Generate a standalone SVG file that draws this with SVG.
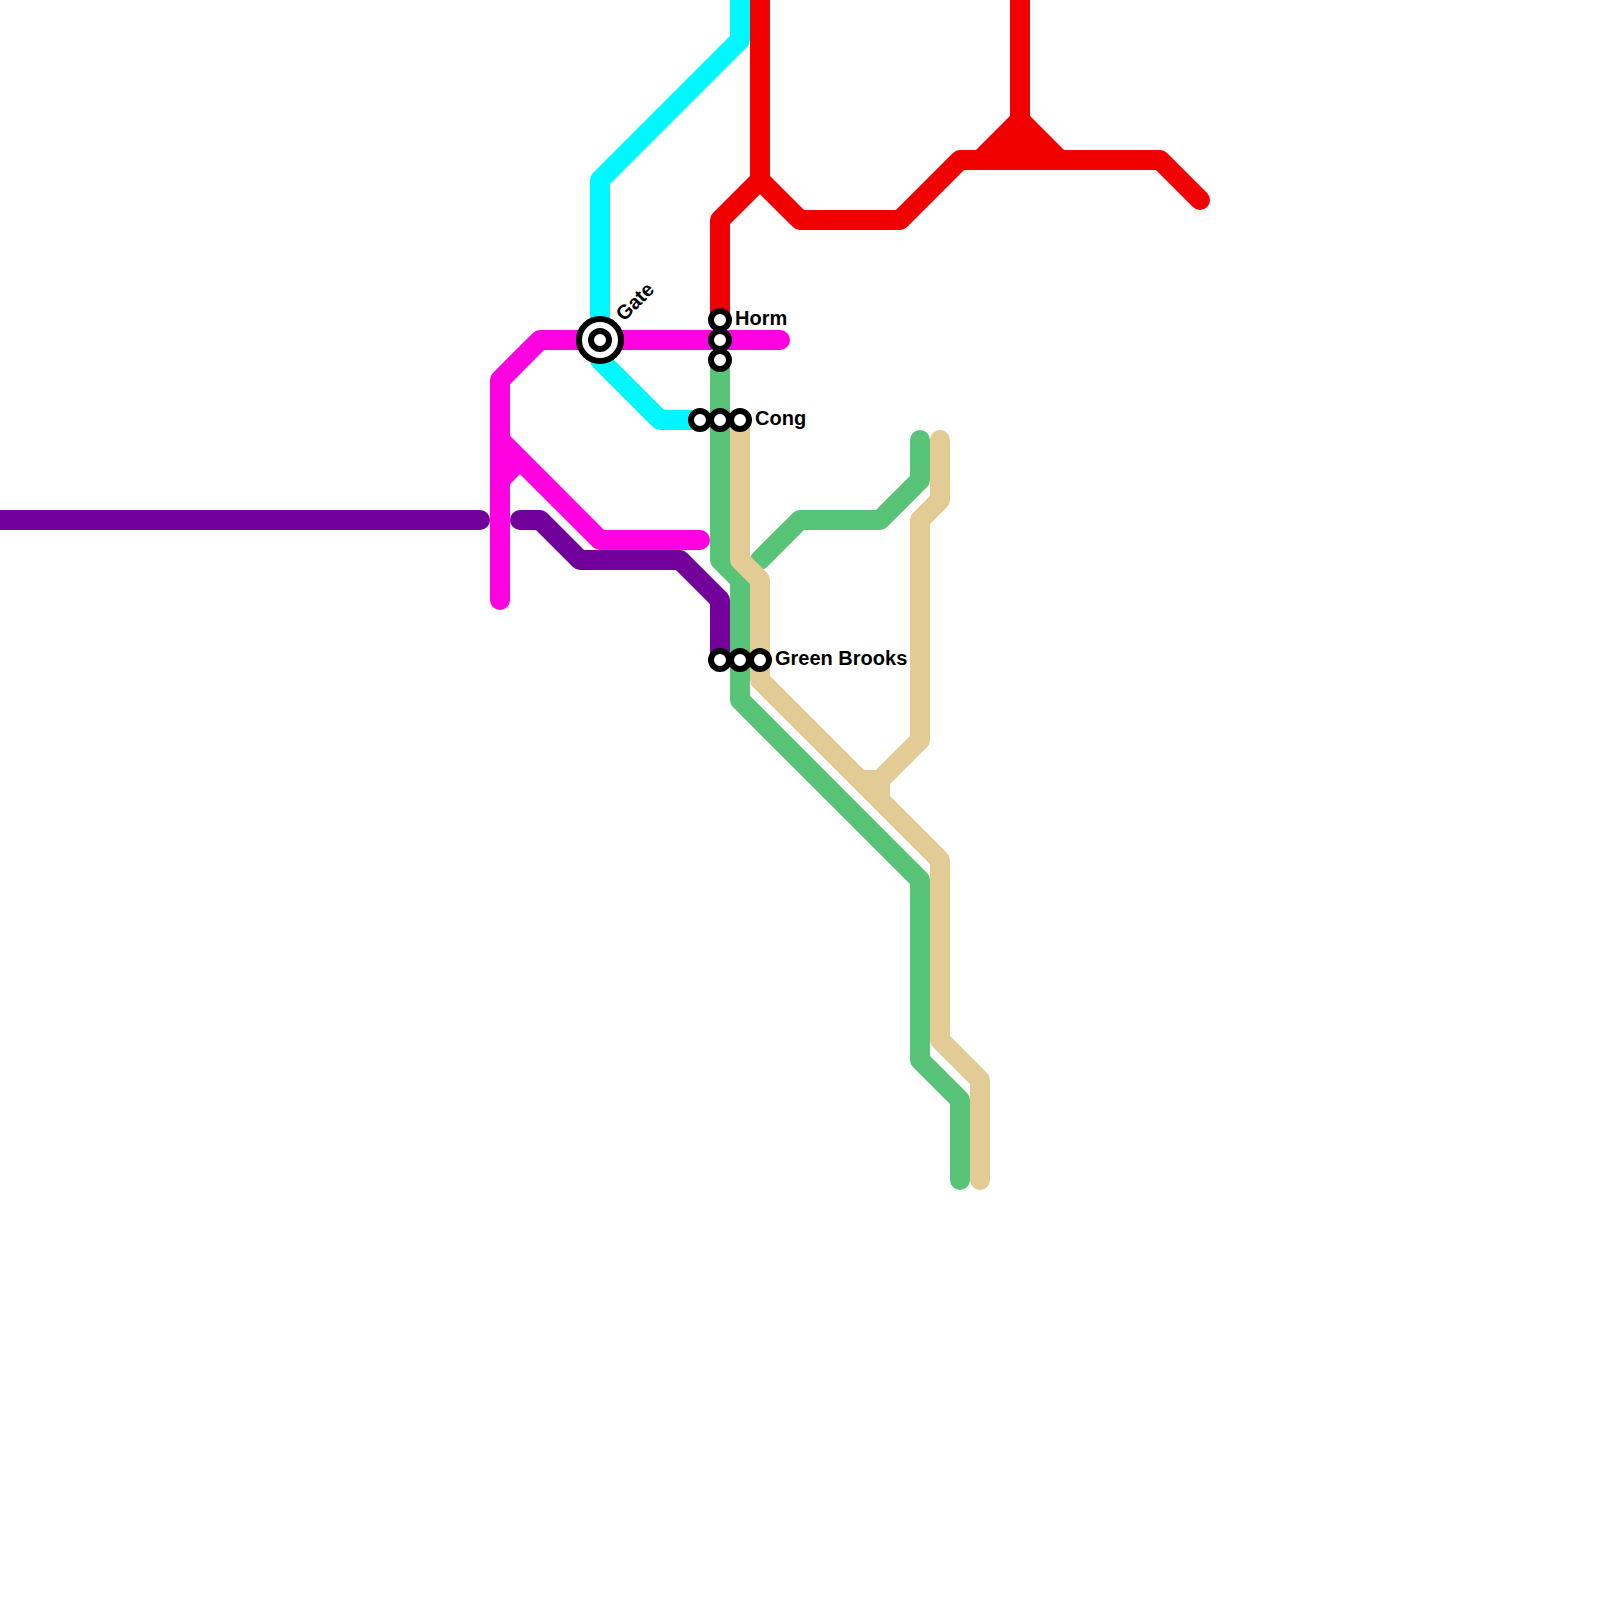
<svg xmlns="http://www.w3.org/2000/svg" width="1600" height="1600" viewBox="0 0 1600 1600">
<style>
.l{fill:none;stroke-width:20;stroke-linecap:round;stroke-linejoin:round}
.cy{stroke:#00f7ff}.re{stroke:#f00000}.ma{stroke:#ff00e1}.pu{stroke:#72009b}.gr{stroke:#57c478}.ta{stroke:#e3cb96}
.s{fill:#fff;stroke:#000;stroke-width:6}
text{font-family:"Liberation Sans",Arial,sans-serif;font-weight:700;font-size:20px;fill:#000}
</style>
<rect width="1600" height="1600" fill="#fff"/>
<g id="connectors">
<path class="l cy" d="M740 -20V40L600 180V340M600 360L660 420H700"/>
<path class="l re" d="M1020 -20V120M720 320V220L760 180V-20M760 180L800 220H900L960 160H1160L1200 200"/>
<path class="l re" style="fill:#f00000" d="M1020 120L980 160H1060Z"/>
<path class="l pu" d="M-20 520H480M520 520H540L580 560H680L720 600V660"/>
<path class="l ma" d="M500 600V380L540 340H780M500 440L600 540H700M500 480L520 460"/>
<path class="l gr" d="M720 360V560L740 580V700L920 880V1060L960 1100V1180M760 560L800 520H880L920 480V440"/>
<path class="l ta" d="M740 420V560L760 580V680L940 860V1040L980 1080V1180M940 440V500L920 520V740L880 780H860M880 780V800"/>
</g>
<g id="station-gate"><circle class="s" cx="600" cy="340" r="21"/><circle class="s" cx="600" cy="340" r="9"/><text transform="translate(624 322) rotate(-45)">Gate</text></g>
<g id="station-horm"><circle class="s" cx="720" cy="320" r="9"/><text x="735" y="325">Horm</text></g>
<g id="station-horm-2"><circle class="s" cx="720" cy="340" r="9"/></g>
<g id="station-horm-3"><circle class="s" cx="720" cy="360" r="9"/></g>
<g id="station-cong-1"><circle class="s" cx="700" cy="420" r="9"/></g>
<g id="station-cong-2"><circle class="s" cx="720" cy="420" r="9"/></g>
<g id="station-cong"><circle class="s" cx="740" cy="420" r="9"/><text x="755" y="425">Cong</text></g>
<g id="station-brooks-1"><circle class="s" cx="720" cy="660" r="9"/></g>
<g id="station-brooks-2"><circle class="s" cx="740" cy="660" r="9"/></g>
<g id="station-brooks"><circle class="s" cx="760" cy="660" r="9"/><text x="775" y="665">Green Brooks</text></g>
</svg>
